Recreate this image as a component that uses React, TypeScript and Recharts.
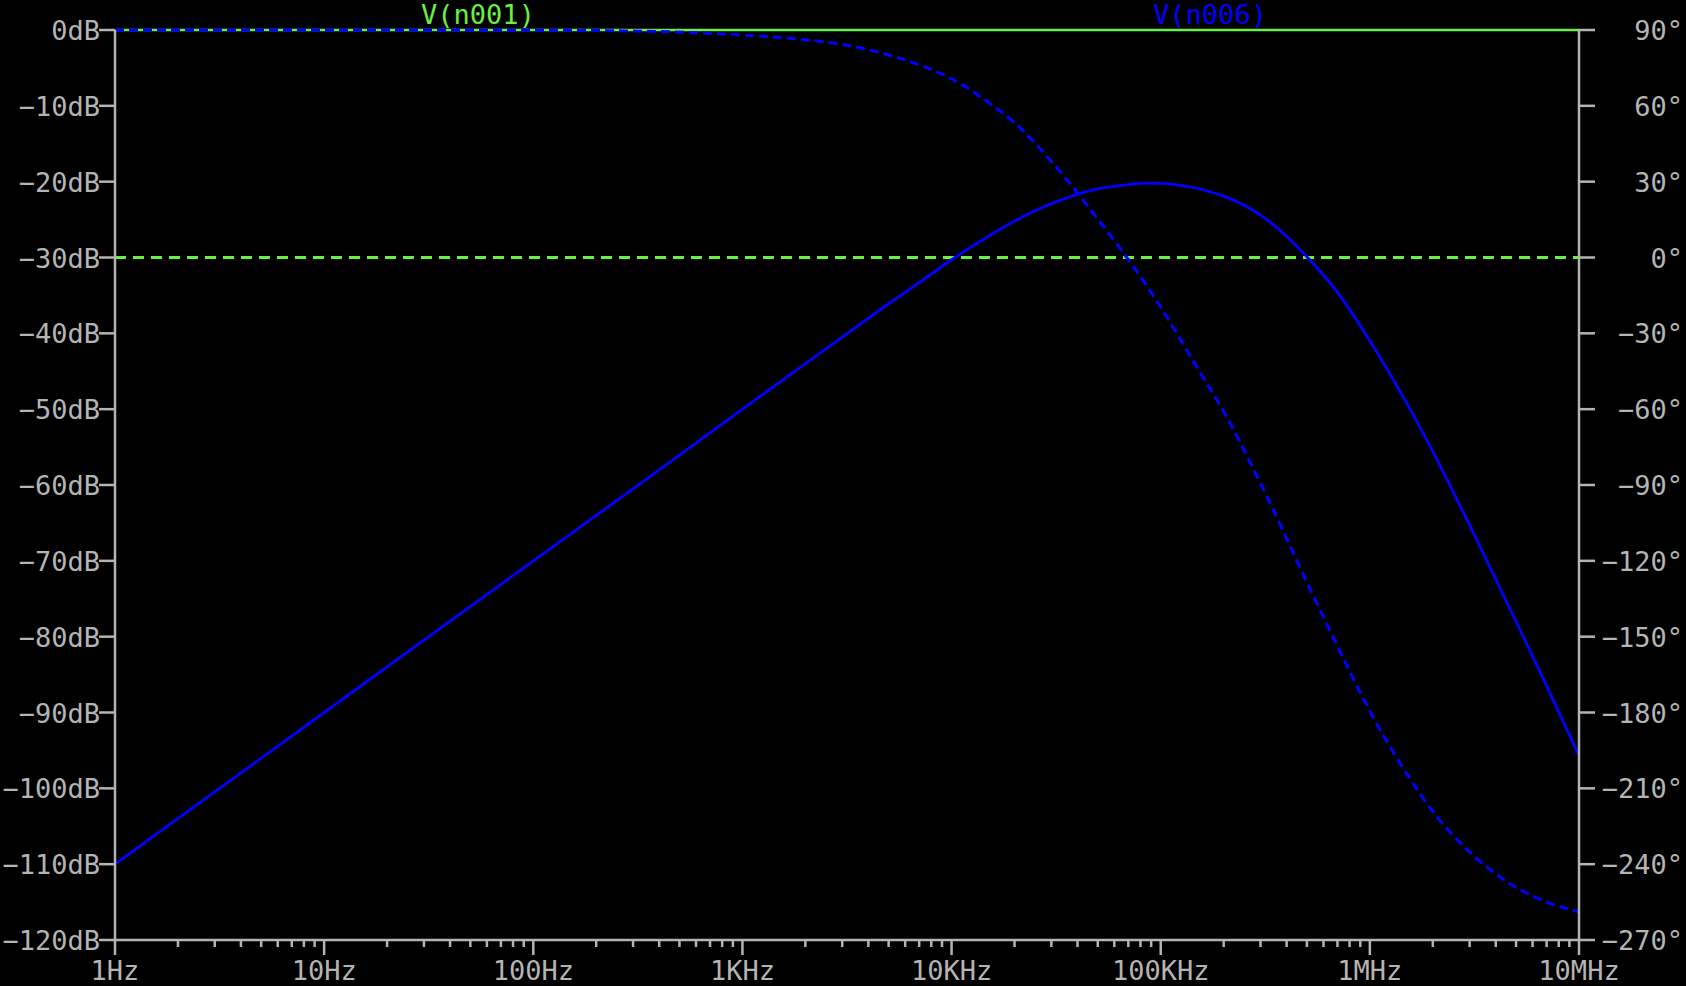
import { LineChart, Line, XAxis, YAxis } from "recharts";

// AC sweep, V(n006) magnitude (dB) and phase (deg), V(n001) source as reference
const freqs = [
  1, 10, 100, 300, 1000, 2000, 3000, 5000, 7000, 10000, 15000, 20000, 30000, 50000, 70000, 85000,
  100000, 150000, 200000, 300000, 500000, 700000, 1000000, 1500000, 2000000, 3000000, 5000000,
  7000000, 10000000,
];
const magDb = [
  -110, -90, -70, -60.5, -50, -44, -40.5, -36.1, -33.3, -30.3, -27.2, -25.2, -22.9, -20.95, -20.4,
  -20.18, -20.22, -20.9, -21.9, -24.4, -29.9, -34.6, -41.0, -49.2, -55.6, -65.3, -78.0, -86.5, -95.7,
];
const phaseDeg = [
  90, 90, 89.9, 89.6, 88.0, 86.1, 84.3, 80.1, 76.2, 70.7, 61.3, 53.3, 38.0, 15.2, -0.8, -10.7, -19.7,
  -43.8, -61.0, -89.3, -128.5, -153.8, -179.5, -204.2, -219.2, -235.2, -249.2, -255.0, -258.8,
];

const srcFreqs = [1, 10000000];
const srcDb = [0, 0];
const srcDeg = [0, 0];

const decades = [1, 10, 100, 1000, 10000, 100000, 1000000, 10000000];
const decadeLabels = ["1Hz", "10Hz", "100Hz", "1KHz", "10KHz", "100KHz", "1MHz", "10MHz"];
const dbTicks = [0, -10, -20, -30, -40, -50, -60, -70, -80, -90, -100, -110, -120];
const degTicks = [90, 60, 30, 0, -30, -60, -90, -120, -150, -180, -210, -240, -270];

const GRAY = "#b4b4b4";
const GREEN = "#6af040";
const BLUE = "#0000ff";
const FONT = "'DejaVu Sans Mono', monospace";

const rows = freqs.map((f, i) => ({ f, mag: magDb[i], ph: phaseDeg[i] }));
const srcRows = srcFreqs.map((f, i) => ({ f, mag: srcDb[i], ph: srcDeg[i] }));

// decades plus 2..9 minor ticks
const xTicks = decades.flatMap((d, i) =>
  i === decades.length - 1 ? [d] : [1, 2, 3, 4, 5, 6, 7, 8, 9].map((m) => d * m)
);

const minus = (v: number) => (v < 0 ? "\u2212" + Math.abs(v) : String(v));

const XTick = (props: any) => {
  const { x, y, payload } = props;
  const idx = decades.indexOf(payload.value);
  const major = idx >= 0;
  return (
    <g>
      <line x1={x} y1={y} x2={x} y2={y + (major ? 15 : 7)} stroke={GRAY} strokeWidth={2.5} />
      {major && (
        <text x={x} y={y + 40} textAnchor="middle" fill={GRAY} fontFamily={FONT} fontSize={27}>
          {decadeLabels[idx]}
        </text>
      )}
    </g>
  );
};

const DbTick = (props: any) => {
  const { x, y, payload } = props;
  return (
    <g>
      <line x1={x} y1={y} x2={x - 16} y2={y} stroke={GRAY} strokeWidth={2.5} />
      <text x={x - 15} y={y + 10} textAnchor="end" fill={GRAY} fontFamily={FONT} fontSize={27}>
        {minus(payload.value) + "dB"}
      </text>
    </g>
  );
};

const DegTick = (props: any) => {
  const { x, y, payload } = props;
  return (
    <g>
      <line x1={x} y1={y} x2={x + 16} y2={y} stroke={GRAY} strokeWidth={2.5} />
      <text x={1683} y={y + 10} textAnchor="end" fill={GRAY} fontFamily={FONT} fontSize={27}>
        {minus(payload.value) + "\u00b0"}
      </text>
    </g>
  );
};

export default function App() {
  return (
    <div
      style={{
        position: "fixed",
        left: 0,
        top: 0,
        width: 1686,
        height: 986,
        background: "#000",
      }}
    >
      <LineChart width={1686} height={986} data={rows} margin={{ top: 30, right: 0, bottom: 0, left: 0 }}>
        <XAxis
          dataKey="f"
          type="number"
          scale="log"
          domain={[1, 10000000]}
          ticks={xTicks}
          interval={0}
          height={46}
          tickSize={0}
          tickMargin={0}
          tickLine={false}
          axisLine={{ stroke: GRAY, strokeWidth: 2.5 }}
          tick={<XTick />}
        />
        <YAxis
          yAxisId="db"
          orientation="left"
          type="number"
          domain={[-120, 0]}
          ticks={dbTicks}
          interval={0}
          width={115}
          tickSize={0}
          tickMargin={0}
          tickLine={false}
          axisLine={{ stroke: GRAY, strokeWidth: 2.5 }}
          tick={<DbTick />}
        />
        <YAxis
          yAxisId="deg"
          orientation="right"
          type="number"
          domain={[-270, 90]}
          ticks={degTicks}
          interval={0}
          width={107}
          tickSize={0}
          tickMargin={0}
          tickLine={false}
          axisLine={{ stroke: GRAY, strokeWidth: 2.5 }}
          tick={<DegTick />}
        />
        <Line
          data={srcRows}
          yAxisId="db"
          dataKey="mag"
          type="linear"
          stroke={GREEN}
          strokeWidth={2.5}
          dot={false}
          activeDot={false}
          isAnimationActive={false}
        />
        <Line
          data={srcRows}
          yAxisId="deg"
          dataKey="ph"
          type="linear"
          stroke={GREEN}
          strokeWidth={3}
          strokeDasharray="11 7"
          dot={false}
          activeDot={false}
          isAnimationActive={false}
        />
        <Line
          yAxisId="db"
          dataKey="mag"
          type="monotone"
          stroke={BLUE}
          strokeWidth={2.8}
          dot={false}
          activeDot={false}
          isAnimationActive={false}
        />
        <Line
          yAxisId="deg"
          dataKey="ph"
          type="monotone"
          stroke={BLUE}
          strokeWidth={3}
          strokeDasharray="9 5"
          dot={false}
          activeDot={false}
          isAnimationActive={false}
        />
      </LineChart>
      <svg width={1686} height={40} style={{ position: "absolute", left: 0, top: 0 }}>
        <text x={478} y={24} textAnchor="middle" fill={GREEN} fontFamily={FONT} fontSize={27}>
          V(n001)
        </text>
        <text x={1210} y={24} textAnchor="middle" fill={BLUE} fontFamily={FONT} fontSize={27}>
          V(n006)
        </text>
      </svg>
    </div>
  );
}
